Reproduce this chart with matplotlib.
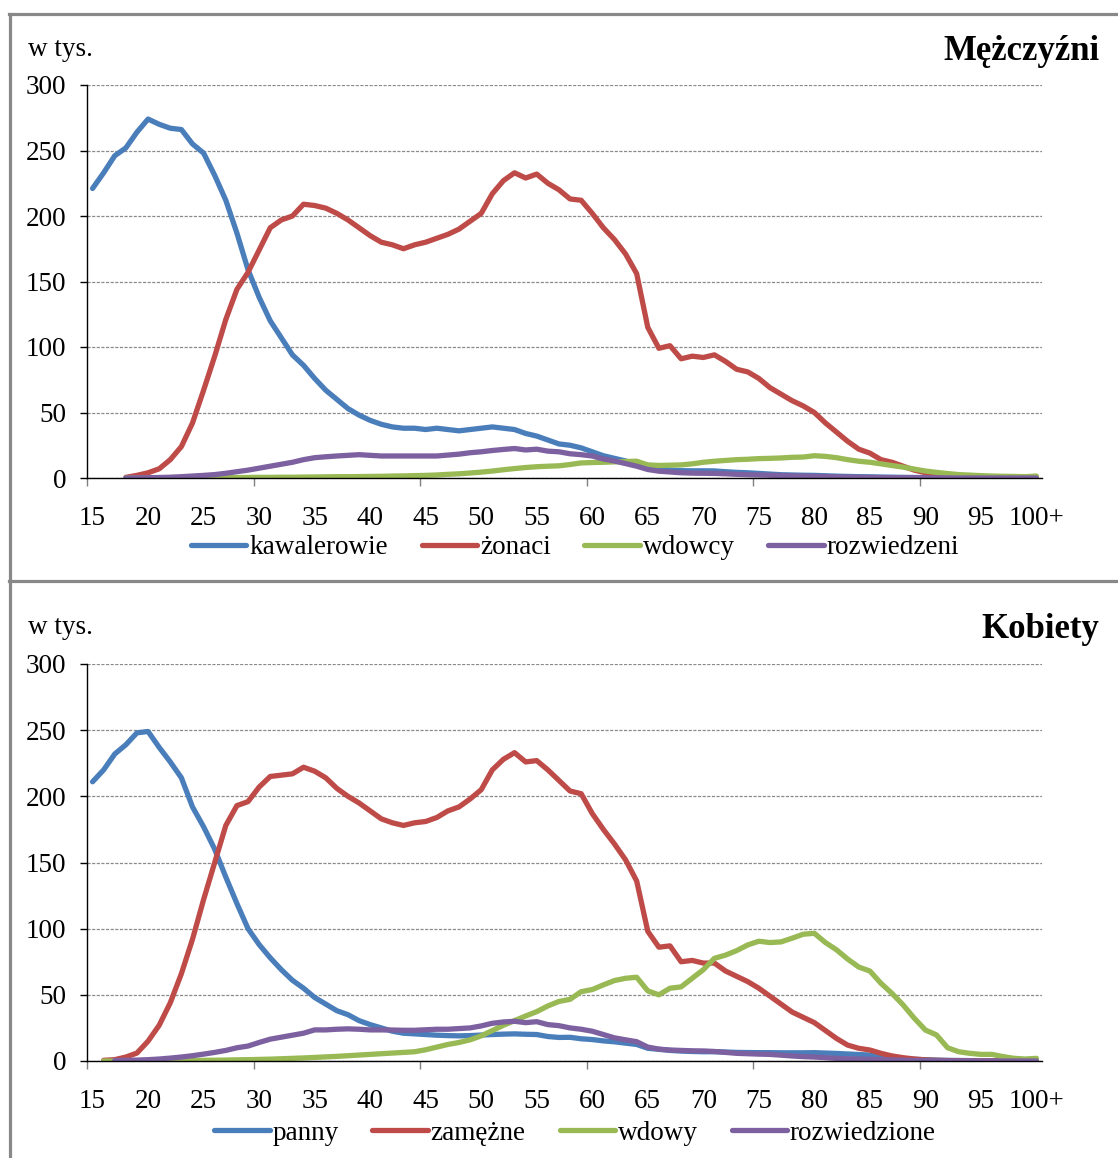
import numpy as np
import matplotlib
matplotlib.use("Agg")
import matplotlib.pyplot as plt
from matplotlib.lines import Line2D

plt.rcParams['font.family'] = ['Liberation Serif', 'DejaVu Serif']

nan = np.nan
ages = list(range(15, 101))
age_labels = [str(a) if a < 100 else "100+" for a in ages]

# ---- Men (w tys.) ----
m_kawalerowie = [221, 233, 246, 252, 264, 274, 270, 267, 266, 255, 248, 231, 212, 187, 159, 138, 120, 107, 94, 86,
                 76, 67, 60, 53, 48, 44, 41, 39, 38, 38, 37, 38, 37, 36, 37, 38, 39, 38, 37, 34,
                 32, 29, 26, 25, 23, 20, 17, 15, 13, 10, 8, 7, 6, 5.6, 5.5, 5.5, 5.4, 4.8, 4.3, 4,
                 3.5, 3, 2.5, 2.3, 2.1, 2, 1.7, 1.4, 1.2, 1, 0.9, 0.7, 0.6, 0.5, 0.4, 0.3, 0.2, 0.2, 0.1, 0.1,
                 0.1, 0.1, 0, 0, 0, 0]
m_zonaci = [nan, nan, nan, 0.5, 2, 4, 7, 14, 24, 42, 67, 93, 121, 144, 157, 174, 191, 197, 200, 209,
            208, 206, 202, 197, 191, 185, 180, 178, 175, 178, 180, 183, 186, 190, 196, 202, 217, 227, 233, 229,
            232, 225, 220, 213, 212, 202, 191, 182, 171, 156, 115, 99, 101, 91, 93, 92, 94, 89, 83, 81,
            76, 69, 64, 59, 55, 50, 42, 35, 28, 22, 19, 14, 12, 9, 6, 4, 3, 2, 1.3, 0.8,
            0.5, 0.3, 0.2, 0.1, 0.1, 0.1]
m_wdowcy = [nan, nan, nan, 0, 0, 0, 0.1, 0.1, 0.1, 0.1, 0.2, 0.2, 0.3, 0.3, 0.4, 0.5, 0.5, 0.6, 0.6, 0.7,
            0.8, 0.9, 1, 1, 1.1, 1.2, 1.3, 1.5, 1.6, 1.8, 2, 2.3, 2.8, 3.2, 3.8, 4.5, 5.3, 6.3, 7.2, 8,
            8.6, 9, 9.3, 10.3, 11.5, 11.8, 12, 12.3, 12.6, 12.8, 10, 9.6, 9.8, 10, 10.8, 12, 12.8, 13.4, 14, 14.3,
            14.8, 15, 15.3, 15.8, 16, 17, 16.5, 15.5, 14, 12.8, 12, 10.8, 9.5, 8.3, 6.8, 5.3, 4.3, 3.4, 2.6, 2.2,
            1.8, 1.5, 1.3, 1.2, 1, 1.5]
m_rozwiedzeni = [nan, nan, nan, 0, 0.1, 0.2, 0.4, 0.6, 1, 1.5, 2, 2.6, 3.6, 4.8, 6, 7.5, 9, 10.5, 12, 14,
                 15.5, 16.2, 16.8, 17.3, 17.8, 17.3, 16.8, 16.8, 16.8, 16.8, 16.8, 16.8, 17.5, 18.2, 19.3, 20, 21, 21.8, 22.5, 21.4,
                 22, 20.5, 20, 18.5, 17.8, 16.8, 14.5, 13, 11, 9, 6.5, 5.2, 4.6, 4, 3.7, 3.6, 3.5, 3.2, 2.8, 2.5,
                 2.3, 2.1, 1.9, 1.7, 1.5, 1.3, 1.1, 0.9, 0.7, 0.6, 0.5, 0.4, 0.3, 0.2, 0.2, 0.1, 0.1, 0.1, 0, 0,
                 0, 0, 0, 0, 0, 0]

# ---- Women (w tys.) ----
k_panny = [211, 220, 232, 239, 248, 249, 237, 226, 214, 192, 177, 160, 139, 119, 100, 88, 78, 69, 61, 55,
           48, 43, 38, 35, 30.5, 27.5, 25, 22.5, 21, 20.5, 20, 19.5, 19.2, 19, 19.2, 19.6, 20, 20.3, 20.5, 20.2,
           20, 18.5, 17.8, 17.9, 16.8, 16.2, 15.2, 14.5, 13.5, 12.5, 9.6, 8.8, 8, 7.5, 7.2, 7, 7, 6.8, 6.5, 6.4,
           6.3, 6.3, 6.2, 6.2, 6.2, 6.3, 6, 5.7, 5.3, 4.9, 4.5, 3.5, 2.5, 1.8, 1.3, 1, 0.7, 0.5, 0.4, 0.3,
           0.2, 0.2, 0.1, 0.1, 0.1, 0.1]
k_zamezne = [nan, 0.5, 1, 3, 6, 15, 27, 44, 66, 92, 122, 150, 178, 193, 196, 207, 215, 216, 217, 222,
             219, 214, 206, 200, 195, 189, 183, 180, 178, 180, 181, 184, 189, 192, 198, 205, 220, 228, 233, 226,
             227, 220, 212, 204, 202, 187, 175, 164, 152, 136, 98, 86, 87, 75, 76, 74, 74, 68, 64, 60,
             55, 49, 43, 37, 33, 29, 23, 17, 12, 9.6, 8.3, 5.8, 3.8, 2.5, 1.5, 0.8, 0.5, 0.3, 0.2, 0.1,
             0.1, 0.1, 0, 0, 0, 0]
k_wdowy = [nan, 0, 0, 0, 0.1, 0.1, 0.2, 0.2, 0.3, 0.4, 0.5, 0.6, 0.7, 0.9, 1, 1.2, 1.4, 1.7, 2, 2.3,
           2.7, 3.1, 3.5, 4, 4.5, 5, 5.5, 6, 6.5, 7, 8.5, 10.5, 12.5, 14, 16, 19, 23, 27, 30.5, 34,
           37.3, 41.6, 45, 46.6, 52.4, 54, 57.5, 60.8, 62.5, 63.3, 53, 50, 55, 56, 62.5, 69, 77.6, 80, 83.4, 87.7,
           90.5, 89.5, 90, 92.8, 95.8, 96.5, 89.5, 84, 77, 71, 68, 58.7, 51, 42.3, 32.3, 23.4, 19.7, 10, 7, 5.8,
           5, 5, 3.3, 2, 1.5, 2]
k_rozwiedzione = [nan, nan, 0.3, 0.5, 0.7, 1, 1.5, 2.2, 3, 4, 5.2, 6.5, 8, 10, 11.3, 14, 16.5, 18, 19.5, 21,
                  23.5, 23.5, 24, 24.3, 24, 23.5, 23.5, 23.4, 23.2, 23.2, 23.6, 24, 24, 24.5, 25, 26.5, 28.5, 29.5, 30, 29,
                  29.7, 27.5, 26.7, 25, 24, 22.5, 20, 17.5, 16, 14.6, 10.5, 9, 8.3, 8, 7.7, 7.6, 7.2, 6.5, 5.8, 5.5,
                  5.2, 5, 4.4, 3.8, 3.3, 3, 2.5, 2, 1.7, 1.5, 1.3, 1, 0.8, 0.6, 0.4, 0.3, 0.2, 0.1, 0.1, 0.1,
                  0, 0, 0, 0, 0, 0]

men_series = [("kawalerowie", m_kawalerowie), ("żonaci", m_zonaci),
              ("wdowcy", m_wdowcy), ("rozwiedzeni", m_rozwiedzeni)]
women_series = [("panny", k_panny), ("zamężne", k_zamezne),
                ("wdowy", k_wdowy), ("rozwiedzione", k_rozwiedzione)]
colors = ["#4A7EBB", "#BE4B48", "#98B954", "#7D60A0"]

W, H = 1118, 1158
fig = plt.figure(figsize=(W / 100, H / 100), dpi=100)
fig.patch.set_facecolor("white")

FS = 19.5
LW = 3.8


def fx(px):
    return px / W


def fy(py):
    return 1 - py / H


def make_panel(top_px, bottom_px, series, title, legend_y):
    ax = fig.add_axes([fx(87), fy(bottom_px), fx(1042) - fx(87), fy(top_px) - fy(bottom_px)])
    x = np.arange(len(ages))
    for (name, vals), c in zip(series, colors):
        ax.plot(x, np.array(vals, dtype=float), color=c, lw=LW, label=name,
                solid_joinstyle="round", solid_capstyle="round")
    ax.set_xlim(-0.5, len(ages) - 0.5)
    ax.set_ylim(0, 300)
    ax.set_yticks(np.arange(0, 301, 50))
    ax.grid(axis="y", color="#8a8a8a", lw=0.9, linestyle=(0, (2.5, 1.2)))
    ax.set_axisbelow(True)
    ax.set_xticks(x[::5])
    ax.set_xticklabels(age_labels[::5])
    ax.set_xticks(np.arange(-0.5, len(ages) - 0.5, 15), minor=True)
    ax.tick_params(axis="x", which="major", length=0, pad=20, labelsize=FS)
    ax.tick_params(axis="x", which="minor", length=6, width=1, color="#808080", direction="out")
    ax.tick_params(axis="y", length=5, width=1, color="black", pad=10, labelsize=FS)
    for s in ("top", "right"):
        ax.spines[s].set_visible(False)
    for s in ("left", "bottom"):
        ax.spines[s].set_color("black")
        ax.spines[s].set_linewidth(1.0)
    fig.text(fx(28), fy(top_px - 36), "w tys.", fontsize=FS, ha="left", va="center")
    fig.text(fx(1099), fy(top_px - 34), title, fontsize=25, fontweight="bold",
             ha="right", va="center")
    handles = [Line2D([0], [0], color=c, lw=LW, solid_capstyle="round") for c in colors]
    fig.legend(handles, [n for n, _ in series], loc="center",
               bbox_to_anchor=(fx(575), fy(legend_y)), ncol=4, frameon=False,
               fontsize=FS, handlelength=2.05, handletextpad=0.1, columnspacing=1.25,
               borderpad=0, borderaxespad=0)
    return ax


make_panel(85, 478, men_series, "Mężczyźni", 548)
make_panel(664, 1061, women_series, "Kobiety", 1133)

# panel frames
border = "#888888"
lw_b = 2.3
fig.add_artist(Line2D([fx(9), 1.0], [fy(14), fy(14)], color=border, lw=lw_b))
fig.add_artist(Line2D([fx(10), fx(10)], [fy(14), 0.0], color=border, lw=lw_b))
fig.add_artist(Line2D([fx(9), 1.0], [fy(581), fy(581)], color=border, lw=lw_b))

fig.savefig("out.png", dpi=100, facecolor="white")
